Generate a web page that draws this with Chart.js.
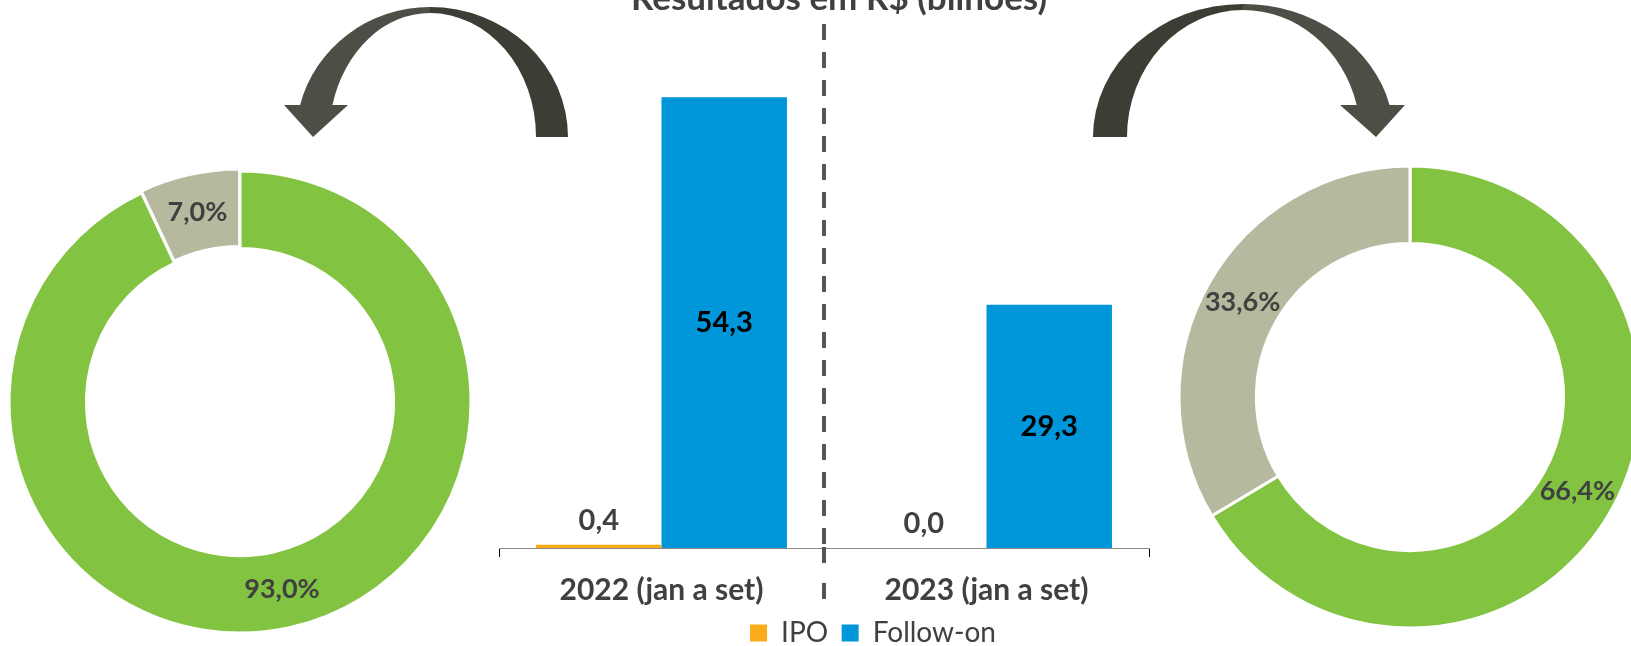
<!DOCTYPE html>
<html>
<head>
<meta charset="utf-8">
<script src="https://cdn.jsdelivr.net/npm/chart.js@4.4.0/dist/chart.umd.min.js"></script>
<style>
  html, body { margin: 0; padding: 0; background: #fff; }
  body { width: 1631px; height: 646px; overflow: hidden; position: relative; }
  .box { position: absolute; }
  #donut-left  { left: 0;      top: 162px; width: 480px;  height: 480px; }
  #donut-right { left: 1170px; top: 157px; width: 480px;  height: 480px; }
  #bars        { left: 0;      top: -30px; width: 1631px; height: 687px; }
</style>
</head>
<body>
<div class="box" id="donut-left"><canvas id="c-left"></canvas></div>
<div class="box" id="donut-right"><canvas id="c-right"></canvas></div>
<div class="box" id="bars"><canvas id="c-bars"></canvas></div>
<script>
// dados
const TITLE      = "Resultados em R$ (bilhões)";
const PERIODS    = ["2022 (jan a set)", "2023 (jan a set)"];
const IPO        = [0.4, 0.0];
const FOLLOW_ON  = [54.3, 29.3];
const PARTS      = ["Parcela A", "Parcela B"];
const SHARE_2022 = [93.0, 7.0];
const SHARE_2023 = [66.4, 33.6];

const FONT   = "Lato, 'Open Sans', sans-serif";
const DARK   = "#404040";
const ORANGE = "#FBAA19";
const BLUE   = "#0096DA";
const GREEN  = "#82C341";
const GREY   = "#B7B99E";

Chart.defaults.font.family = FONT;

const fmt = v => v.toFixed(1).replace(".", ",");

// rótulos % no meio do anel
const pctLabels = {
  id: "pctLabels",
  afterDatasetsDraw(chart) {
    const ctx = chart.ctx;
    const ds  = chart.data.datasets[0];
    ctx.save();
    ctx.font = `bold 27px ${FONT}`;
    ctx.fillStyle = DARK;
    ctx.textAlign = "center";
    ctx.textBaseline = "middle";
    chart.getDatasetMeta(0).data.forEach((arc, i) => {
      const p = arc.tooltipPosition();
      ctx.fillText(fmt(ds.data[i]) + "%", p.x, p.y);
    });
    ctx.restore();
  },
};

function donut(id, values, offsets) {
  return new Chart(document.getElementById(id), {
    type: "doughnut",
    data: {
      labels: PARTS,
      datasets: [{
        data:            values,
        backgroundColor: [GREEN, GREY],
        borderColor:     "#fff",
        borderWidth:     3,
        offset:          offsets,
        hoverOffset:     0,
      }],
    },
    options: {
      responsive:          true,
      maintainAspectRatio: false,
      animation:           false,
      radius:              231,
      cutout:              "66.5%",
      plugins: { legend: { display: false }, tooltip: { enabled: false } },
    },
    plugins: [pctLabels],
  });
}

donut("c-left",  SHARE_2022, [0, 5]);
donut("c-right", SHARE_2023, [0, 0]);

// título e legenda deslocados para a direita, como no original
const shiftBlocks = {
  id: "shiftBlocks",
  afterLayout(chart) {
    chart.titleBlock.left += 23.5;
    chart.titleBlock.right += 23.5;
    chart.legend.left += 57.5;
    chart.legend.right += 57.5;
  },
};

// linha tracejada entre os dois períodos
const separator = {
  id: "separator",
  afterDraw(chart) {
    const x   = chart.scales.x;
    const px  = (x.getPixelForValue(0) + x.getPixelForValue(1)) / 2;
    const ctx = chart.ctx;
    ctx.save();
    ctx.strokeStyle = "#555555";
    ctx.lineWidth = 4;
    ctx.setLineDash([16, 12]);
    ctx.beginPath();
    ctx.moveTo(px, 54);
    ctx.lineTo(px, 574);
    ctx.stroke();
    ctx.setLineDash([16, 20]);
    ctx.beginPath();
    ctx.moveTo(px, 577);
    ctx.lineTo(px, 630);
    ctx.stroke();
    ctx.restore();
  },
};

const barValues = {
  id: "barValues",
  afterDatasetsDraw(chart) {
    const ctx = chart.ctx;
    ctx.save();
    ctx.font = `bold 29px ${FONT}`;
    ctx.textAlign = "center";
    ctx.textBaseline = "middle";
    chart.data.datasets.forEach((ds, di) => {
      chart.getDatasetMeta(di).data.forEach((bar, i) => {
        const txt = fmt(ds.data[i]);
        if (di === 0) {
          ctx.fillStyle = DARK;
          ctx.fillText(txt, bar.x, bar.y - 24);
        } else {
          ctx.fillStyle = "#000";
          ctx.fillText(txt, bar.x, (bar.y + bar.base) / 2);
        }
      });
    });
    ctx.restore();
  },
};

// setas curvas (decoração)
const arrows = {
  id: "arrows",
  afterDraw(chart) {
    const ctx = chart.ctx;
    const dark = "#3d3d36", light = "#4e4e47";
    ctx.save();
    ctx.translate(0, 30);

    // esquerda: cauda à direita, ponta à esquerda
    ctx.fillStyle = dark;
    ctx.beginPath();
    ctx.ellipse(430, 137, 138, 130, 0, 0, -Math.PI / 2, true);
    ctx.ellipse(430, 137, 106, 124, 0, -Math.PI / 2, 0, false);
    ctx.closePath();
    ctx.fill();

    ctx.fillStyle = light;
    ctx.beginPath();
    ctx.ellipse(430, 137, 134, 130, 0, -Math.PI / 2, -Math.PI + 0.2487, true);
    ctx.ellipse(430, 137, 101, 124, 0, -Math.PI + 0.261, -Math.PI / 2, false);
    ctx.closePath();
    ctx.fill();
    ctx.beginPath();
    ctx.moveTo(284, 105);
    ctx.lineTo(348, 105);
    ctx.lineTo(313, 137);
    ctx.closePath();
    ctx.fill();

    // direita: cauda à esquerda, ponta à direita
    ctx.fillStyle = dark;
    ctx.beginPath();
    ctx.ellipse(1243, 137, 150, 133, 0, Math.PI, 1.5 * Math.PI, false);
    ctx.ellipse(1243, 137, 116, 127, 0, 1.5 * Math.PI, Math.PI, true);
    ctx.closePath();
    ctx.fill();

    ctx.fillStyle = light;
    ctx.beginPath();
    ctx.ellipse(1243, 137, 151, 133, 0, -Math.PI / 2, -0.243, false);
    ctx.ellipse(1243, 137, 117.5, 127, 0, -0.2547, -Math.PI / 2, true);
    ctx.closePath();
    ctx.fill();
    ctx.beginPath();
    ctx.moveTo(1340, 105);
    ctx.lineTo(1405, 105);
    ctx.lineTo(1376, 137);
    ctx.closePath();
    ctx.fill();

    ctx.restore();
  },
};

new Chart(document.getElementById("c-bars"), {
  type: "bar",
  data: {
    labels: PERIODS,
    datasets: [
      { label: "IPO",       data: IPO,       backgroundColor: ORANGE, categoryPercentage: 0.772, barPercentage: 1 },
      { label: "Follow-on", data: FOLLOW_ON, backgroundColor: BLUE,   categoryPercentage: 0.772, barPercentage: 1 },
    ],
  },
  options: {
    responsive:          true,
    maintainAspectRatio: false,
    animation:           false,
    layout: { padding: 0 },
    plugins: {
      title: {
        display: true,
        text:    TITLE,
        color:   DARK,
        font:    { size: 35, weight: "bold", lineHeight: 1.2 },
        padding: { top: 7.5, bottom: 30.5 },
      },
      legend: {
        position: "bottom",
        labels: {
          color:     DARK,
          font:      { size: 28 },
          boxWidth:  17,
          boxHeight: 17,
          padding:   13.5,
        },
      },
      tooltip: { enabled: false },
    },
    scales: {
      x: {
        grid:   { offset: true, drawOnChartArea: false, color: "#000", tickLength: 9 },
        border: { color: "#898989", width: 1 },
        ticks:  { color: DARK, font: { size: 30, weight: "bold" }, padding: 15.7, maxRotation: 0 },
        afterFit: s => { s.height = 57.5; },
      },
      y: {
        min: 0, max: 60,
        ticks:  { display: false },
        grid:   { display: false },
        border: { display: false },
        afterFit: s => { s.width = 499; },
      },
      y2: {
        position: "right",
        ticks:  { display: false },
        grid:   { display: false },
        border: { display: false },
        afterFit: s => { s.width = 482; },
      },
    },
  },
  plugins: [shiftBlocks, separator, barValues, arrows],
});
</script>
</body>
</html>
